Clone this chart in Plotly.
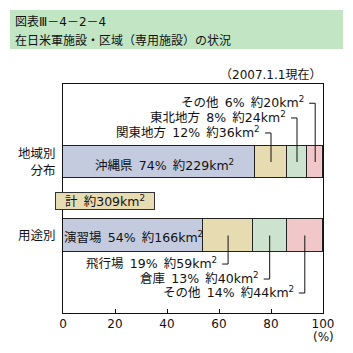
import plotly.graph_objects as go

# ---- data ----
region_names = ["沖縄県", "関東地方", "東北地方", "その他"]
region_pct = [74, 12, 8, 6]
region_area = [229, 36, 24, 20]

use_names = ["演習場", "飛行場", "倉庫", "その他"]
use_pct = [54, 19, 13, 14]
use_area = [166, 59, 40, 44]

total_area = 309
categories = ["用途別", "地域別分布"]
category_ticktext = ["用途別", "地域別<br>分布"]
x_ticks = [0, 20, 40, 60, 80, 100]

title_line1 = "図表Ⅲ－4－2－4"
title_line2 = "在日米軍施設・区域（専用施設）の状況"
date_note = "（2007.1.1現在）"

# ---- style ----
seg_colors = ["#c4cbdf", "#e7dbb1", "#cee3cf", "#f2c7c9"]
title_bg = "#c2e6c4"
FONT = "DejaVu Sans, Noto Sans CJK JP, sans-serif"
LBL = 12.5

W, H = 353, 353
ML, MR, MT, MB = 63, 30, 84, 40
PW, PH = W - ML - MR, H - MT - MB


def px_x(p):
    return (p - ML) / PW


def px_y(p):
    return (H - MB - p) / PH


fig = go.Figure()
for i in range(4):
    fig.add_trace(go.Bar(
        orientation="h",
        y=[categories[1], categories[0]],
        x=[region_pct[i], use_pct[i]],
        width=0.44,
        marker=dict(color=seg_colors[i], line=dict(color="#222222", width=1)),
        showlegend=False,
        hoverinfo="skip",
    ))


def label(name, pct, area):
    return f"{name}\u2002{pct}%\u2002約{area}km<sup>2</sup>"


def cum_mid(vals, i):
    return sum(vals[:i]) + vals[i] / 2


annotations = []
shapes = []

# inside labels for first segment
annotations.append(dict(x=cum_mid(region_pct, 0), y=1, xref="x", yref="y",
                        xanchor="center", yanchor="middle",
                        text=label(region_names[0], region_pct[0], region_area[0]),
                        showarrow=False, xshift=5, yshift=-3,
                        font=dict(size=LBL, family=FONT, color="#111")))
annotations.append(dict(x=cum_mid(use_pct, 0), y=0, xref="x", yref="y",
                        xanchor="center", yanchor="middle",
                        text=label(use_names[0], use_pct[0], use_area[0]),
                        showarrow=False, yshift=-1,
                        font=dict(size=LBL, family=FONT, color="#111")))

# leader-line labels
upper_levels = [1.395, 1.599, 1.799]
lower_levels = [-0.388, -0.592, -0.782]
for k, i in enumerate([1, 2, 3]):
    # upper (region)
    xm = cum_mid(region_pct, i)
    yl = upper_levels[k]
    shapes.append(dict(type="line", xref="x", yref="y", x0=xm, x1=xm, y0=1, y1=yl,
                       line=dict(color="#111", width=1)))
    shapes.append(dict(type="line", xref="x", yref="y", xsizemode="pixel", xanchor=xm,
                       x0=-6, x1=0, y0=yl, y1=yl, line=dict(color="#111", width=1)))
    annotations.append(dict(x=xm, y=yl, xref="x", yref="y", xanchor="right", yanchor="middle",
                            xshift=-9, yshift=1,
                            text=label(region_names[i], region_pct[i], region_area[i]),
                            showarrow=False, font=dict(size=LBL, family=FONT, color="#111")))
    # lower (use)
    xm = cum_mid(use_pct, i)
    yl = lower_levels[k]
    shapes.append(dict(type="line", xref="x", yref="y", x0=xm, x1=xm, y0=0, y1=yl,
                       line=dict(color="#111", width=1)))
    shapes.append(dict(type="line", xref="x", yref="y", xsizemode="pixel", xanchor=xm,
                       x0=-6, x1=0, y0=yl, y1=yl, line=dict(color="#111", width=1)))
    annotations.append(dict(x=xm, y=yl, xref="x", yref="y", xanchor="right", yanchor="middle",
                            xshift=-9, yshift=1,
                            text=label(use_names[i], use_pct[i], use_area[i]),
                            showarrow=False, font=dict(size=LBL, family=FONT, color="#111")))

# total box
annotations.append(dict(x=px_x(105), y=px_y(201), xref="paper", yref="paper",
                        xanchor="center", yanchor="middle",
                        text=f"計\u2002約{total_area}km<sup>2</sup>", showarrow=False,
                        width=96, height=14, bgcolor=seg_colors[1], bordercolor="#333",
                        borderwidth=1, borderpad=1,
                        font=dict(size=LBL, family=FONT, color="#111")))

# date note
annotations.append(dict(x=1.0, y=px_y(75), xref="paper", yref="paper", xanchor="right",
                        yanchor="middle", text=date_note, showarrow=False,
                        font=dict(size=12, family=FONT, color="#111")))

# (%) unit
annotations.append(dict(x=100, y=px_y(337), xref="x", yref="paper", xanchor="center",
                        yanchor="middle", text="(%)", showarrow=False,
                        font=dict(size=12, family=FONT, color="#111")))

# title box
shapes.append(dict(type="rect", xref="paper", yref="paper", x0=px_x(10), x1=px_x(343),
                   y0=px_y(49), y1=px_y(10), fillcolor=title_bg, line=dict(width=0),
                   layer="below"))
annotations.append(dict(x=px_x(13), y=px_y(22), xref="paper", yref="paper", xanchor="left",
                        yanchor="middle", text=title_line1, showarrow=False,
                        font=dict(size=12, family=FONT, color="#111")))
annotations.append(dict(x=px_x(13), y=px_y(40), xref="paper", yref="paper", xanchor="left",
                        yanchor="middle", text=title_line2, showarrow=False,
                        font=dict(size=12, family=FONT, color="#111")))

fig.update_layout(
    width=W, height=H, autosize=False,
    margin=dict(l=ML, r=MR, t=MT, b=MB, pad=0),
    barmode="stack",
    bargap=0,
    plot_bgcolor="white", paper_bgcolor="white",
    font=dict(family=FONT, size=12, color="#111"),
    shapes=shapes,
    annotations=annotations,
    xaxis=dict(range=[0, 100], tickvals=x_ticks, ticks="inside", ticklen=4,
               tickcolor="#111", showline=True, mirror=True, linecolor="#111",
               linewidth=1, showgrid=False, zeroline=False,
               tickfont=dict(size=12, family=FONT, color="#111")),
    yaxis=dict(type="category", categoryorder="array", categoryarray=categories,
               range=[-1.054, 2.061], tickvals=categories, ticktext=category_ticktext,
               ticks="", showline=True, mirror=True, linecolor="#111", linewidth=1,
               showgrid=False, zeroline=False, ticklabelstandoff=4,
               tickfont=dict(size=12.5, family=FONT, color="#111")),
)

fig.write_html("out.html")
